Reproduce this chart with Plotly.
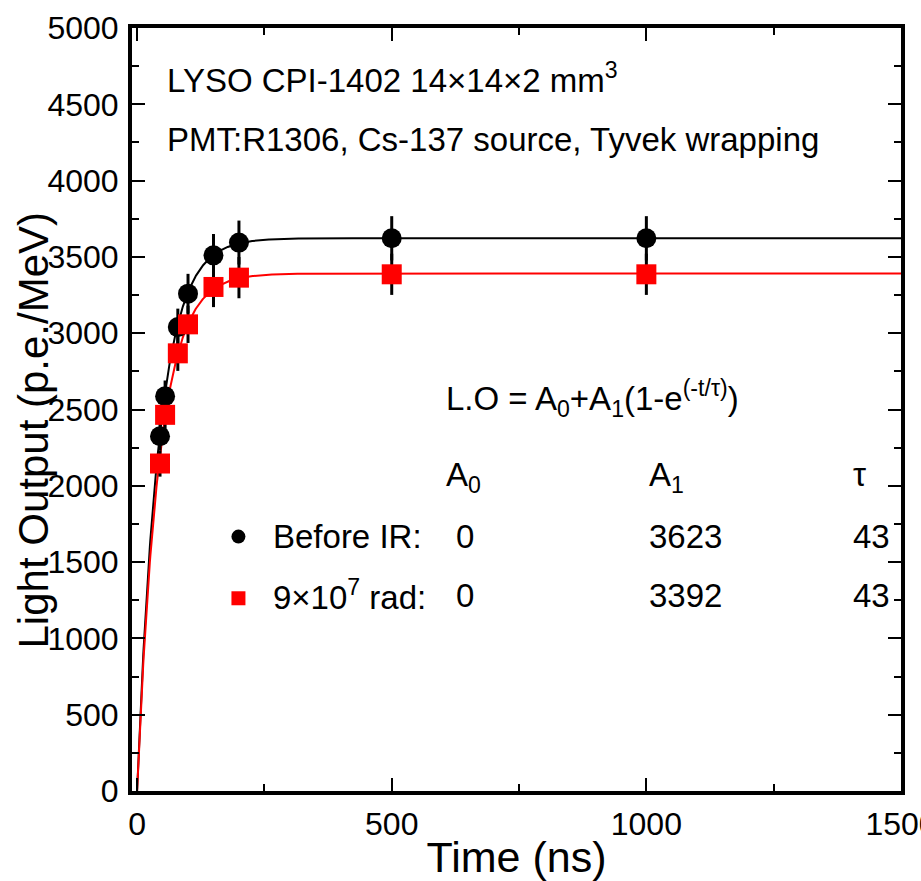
import numpy as np
import plotly.graph_objects as go

# ---------------- data ----------------
time_ns = [45, 55, 80, 100, 150, 200, 500, 1000]
lo_before = [2325, 2587, 3040, 3259, 3510, 3594, 3622, 3622]
err_before = [93, 103, 121, 130, 140, 144, 145, 145]
lo_irr = [2146, 2465, 2868, 3058, 3303, 3364, 3386, 3386]
err_irr = [86, 99, 115, 122, 132, 135, 135, 135]

series_names = ["Before IR:", "9×10<sup>7</sup> rad:"]
fit_A0 = [0, 0]
fit_A1 = [3623, 3392]
fit_tau = [43, 43]
colors = ["black", "#ff0000"]
symbols = ["circle", "square"]

x_ticks = [0, 500, 1000, 1500]
y_ticks = [0, 500, 1000, 1500, 2000, 2500, 3000, 3500, 4000, 4500, 5000]

FONT = "Liberation Sans, Arial, Helvetica, sans-serif"

fig = go.Figure()

# fit curves
t_fit = np.linspace(0, 1500, 1501)
for a0, a1, tau, c in zip(fit_A0, fit_A1, fit_tau, colors):
    fig.add_trace(go.Scatter(
        x=t_fit, y=a0 + a1 * (1 - np.exp(-t_fit / tau)),
        mode="lines", line=dict(color=c, width=2), hoverinfo="skip"))

# data points
for ys, es, c, s in [(lo_before, err_before, colors[0], symbols[0]),
                     (lo_irr, err_irr, colors[1], symbols[1])]:
    fig.add_trace(go.Scatter(
        x=time_ns, y=ys, mode="markers",
        marker=dict(color=c, symbol=s, size=20, line=dict(width=0)),
        error_y=dict(type="data", array=es, visible=True, color="black",
                     thickness=3, width=0)))

axis_common = dict(
    showline=True, linewidth=4, linecolor="black", mirror="ticks",
    ticks="inside", ticklen=13, tickwidth=2, tickcolor="black",
    showgrid=False, zeroline=False,
    tickfont=dict(size=32, family=FONT, color="black"),
    minor=dict(ticks="inside", ticklen=7, tickwidth=2, tickcolor="black",
               dtick=250, showgrid=False),
    automargin=False,
    ticklabeloverflow="allow",
)

fig.update_xaxes(range=[-10, 1500], tickvals=x_ticks,
                 ticktext=[str(v) for v in x_ticks],
                 title=dict(text="Time (ns)", font=dict(size=43, family=FONT),
                            standoff=6),
                 ticklabelstandoff=2,
                 **axis_common)
fig.update_yaxes(range=[0, 5000], tickvals=y_ticks,
                 ticktext=[str(v) for v in y_ticks],
                 ticklabelstandoff=3,
                 **axis_common)

ann = []
def add_text(x, y, text, size=33):
    ann.append(dict(x=x, y=y, xref="x", yref="y", text=text, showarrow=False,
                    xanchor="left", yanchor="middle",
                    font=dict(size=size, family=FONT, color="black")))

# y-axis title
ann.append(dict(x=33, y=0.5 - 21 / 763, xref="paper", yref="paper",
                text="Light Output (p.e./MeV)", showarrow=False, textangle=-90,
                xanchor="center", yanchor="middle",
                font=dict(size=42, family=FONT, color="black")))
ann[-1]["x"] = (33 - 132) / (921 - 132 - 20)

add_text(55, 4675, "LYSO CPI-1402 14×14×2 mm<sup>3</sup>")
add_text(55, 4270, "PMT:R1306, Cs-137 source, Tyvek wrapping")
add_text(602, 2570, "L.O = A<sub>0</sub>+A<sub>1</sub>(1-e<sup>(-t/τ)</sup>)")
add_text(602, 2060, "A<sub>0</sub>")
add_text(1002, 2060, "A<sub>1</sub>")
add_text(1402, 2075, "τ")

row_y = [1667, 1283]
for i in range(2):
    add_text(262, row_y[i], series_names[i])
    add_text(622, row_y[i], str(fit_A0[i]))
    add_text(1002, row_y[i], str(fit_A1[i]))
    add_text(1402, row_y[i], str(fit_tau[i]))

shapes = [
    dict(type="circle", xref="x", yref="y", xsizemode="pixel", ysizemode="pixel",
         xanchor=199, yanchor=row_y[0], x0=-7, x1=7, y0=-7, y1=7,
         fillcolor=colors[0], line=dict(width=0)),
    dict(type="rect", xref="x", yref="y", xsizemode="pixel", ysizemode="pixel",
         xanchor=199, yanchor=row_y[1] - 20, x0=-7, x1=7, y0=-7, y1=7,
         fillcolor=colors[1], line=dict(width=0)),
]

fig.update_layout(
    width=921, height=881,
    margin=dict(l=132, r=20, t=28, b=90),
    plot_bgcolor="white", paper_bgcolor="white",
    showlegend=False,
    font=dict(family=FONT, color="black"),
    annotations=ann, shapes=shapes,
)

fig.write_html("out.html")
